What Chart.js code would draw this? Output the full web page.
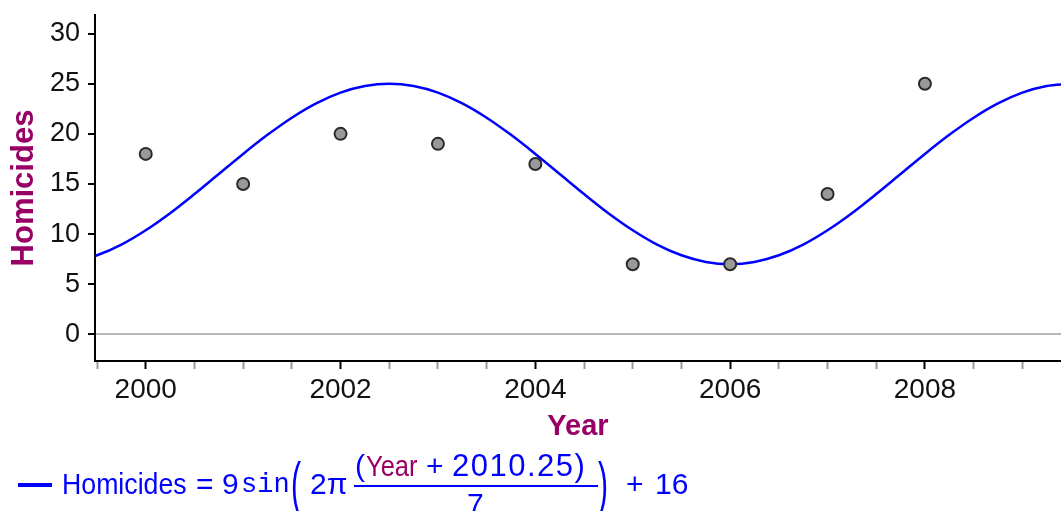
<!DOCTYPE html>
<html>
<head>
<meta charset="utf-8">
<script src="https://cdn.jsdelivr.net/npm/chart.js@4/dist/chart.umd.min.js"></script>
<style>
  body { margin: 0; background: #fff; }
  #wrap { position: relative; width: 1061px; height: 511px; overflow: hidden; }
  #legend > * { position: absolute; white-space: pre; color: #0000ff;
    font-family: "Liberation Sans", Arial, sans-serif; font-size: 30px; line-height: 30px; transform-origin: 0 50%; }
  #legend .mono { font-family: "Liberation Mono", "DejaVu Sans Mono", monospace; font-size: 27px; }
  #legend .big { font-size: 30px; line-height: 30px; transform: scaleY(2.0); transform-origin: 50% 50%; }
  #legend .var { color: #990066; }
</style>
</head>
<body>
<div id="wrap">
  <canvas id="c"></canvas>
  <div id="legend">
    <div style="left:18px; top:483px; width:34px; height:4px; background:#0000ff;"></div>
    <span style="left:62px; top:469px; transform:scaleX(0.89);">Homicides</span>
    <span style="left:196px; top:469px;">=</span>
    <span style="left:222px; top:469px;">9</span>
    <span class="mono" style="left:241px; top:470px;">sin</span>
    <span class="big" style="left:291px; top:469px;">(</span>
    <span style="left:310px; top:469px;">2π</span>
    <span style="left:355px; top:451px;">(</span>
    <span class="var" style="left:366px; top:451px; transform:scaleX(0.85);">Year</span>
    <span style="left:426px; top:451px;">+</span>
    <span style="left:452px; top:450px; font-size:31px; line-height:31px; letter-spacing:1.5px;">2010.25)</span>
    <div style="left:354px; top:485px; width:244px; height:2px; background:#0000ff;"></div>
    <span style="left:467px; top:489px;">7</span>
    <span class="big" style="left:598px; top:469px;">)</span>
    <span style="left:626px; top:469px;">+</span>
    <span style="left:655px; top:469px;">16</span>
  </div>
</div>
<script>
// Observed yearly homicide counts
const years = [2000, 2001, 2002, 2003, 2004, 2005, 2006, 2007, 2008];
const homicides = [18, 15, 20, 19, 17, 7, 7, 14, 25];

// Fitted sine model, sampled every quarter year
const modelYears = [
  1999.25, 1999.5, 1999.75, 2000, 2000.25, 2000.5, 2000.75, 2001, 2001.25, 2001.5, 2001.75,
  2002, 2002.25, 2002.5, 2002.75, 2003, 2003.25, 2003.5, 2003.75, 2004, 2004.25, 2004.5, 2004.75,
  2005, 2005.25, 2005.5, 2005.75, 2006, 2006.25, 2006.5, 2006.75, 2007, 2007.25, 2007.5, 2007.75,
  2008, 2008.25, 2008.5, 2008.75, 2009, 2009.25, 2009.5
];
const modelValues = [
  7.23, 7.89, 8.96, 10.39, 12.09, 14.0, 16.0, 18.0, 19.9, 21.61, 23.04,
  24.11, 24.77, 25.0, 24.77, 24.11, 23.04, 21.61, 19.9, 18.0, 16.0, 14.0, 12.09,
  10.39, 8.96, 7.89, 7.23, 7.0, 7.23, 7.89, 8.96, 10.39, 12.09, 14.0, 16.0,
  18.0, 19.9, 21.61, 23.04, 24.11, 24.77, 25.0
];

// Axis ticks
const yTicks = [0, 5, 10, 15, 20, 25, 30];
const xTicks = [1999.5, 2000, 2000.5, 2001, 2001.5, 2002, 2002.5, 2003, 2003.5, 2004, 2004.5,
  2005, 2005.5, 2006, 2006.5, 2007, 2007.5, 2008, 2008.5, 2009];
const xLabelled = [2000, 2002, 2004, 2006, 2008];

const FONT = '"Liberation Sans", Arial, sans-serif';
const PURPLE = '#990066';
Chart.defaults.font.family = FONT;

new Chart(document.getElementById('c'), {
  type: 'scatter',
  data: {
    datasets: [
      {
        type: 'scatter',
        label: 'Homicides',
        data: years.map((x, i) => ({ x, y: homicides[i] })),
        pointRadius: 6,
        pointBackgroundColor: '#999999',
        pointBorderColor: '#2a2a2a',
        pointBorderWidth: 2,
        order: 0
      },
      {
        type: 'line',
        label: 'Model',
        data: modelYears.map((x, i) => ({ x, y: modelValues[i] })),
        borderColor: '#0000ff',
        borderWidth: 2.5,
        pointRadius: 0,
        fill: false,
        cubicInterpolationMode: 'monotone',
        order: 1
      }
    ]
  },
  options: {
    responsive: true,
    maintainAspectRatio: false,
    animation: false,
    layout: { autoPadding: false, padding: { top: 15, right: 0, bottom: 50, left: 0 } },
    plugins: { legend: { display: false }, tooltip: { enabled: false } },
    scales: {
      x: {
        type: 'linear',
        min: 1999.479,
        max: 2009.397,
        afterBuildTicks: s => { s.ticks = xTicks.map(v => ({ value: v })); },
        afterFit: s => { s.height = 100; s.paddingLeft = 0; s.paddingRight = 0; },
        ticks: {
          autoSkip: false,
          maxRotation: 0,
          padding: 4,
          color: '#111',
          font: { size: 28 },
          callback: v => (xLabelled.includes(v) ? String(v) : '')
        },
        grid: {
          drawOnChartArea: false,
          drawTicks: true,
          tickLength: 8,
          tickWidth: 2,
          tickColor: c => (xLabelled.includes(c.tick.value) ? '#000' : '#9a9a9a')
        },
        border: { color: '#000', width: 2 },
        title: {
          display: true,
          text: 'Year',
          color: PURPLE,
          font: { size: 29, weight: 'bold' },
          padding: { top: 0, bottom: 17 }
        }
      },
      y: {
        min: -2.65,
        max: 31.85,
        afterBuildTicks: s => { s.ticks = yTicks.map(v => ({ value: v })); },
        afterFit: s => { s.width = 95; s.paddingTop = 0; s.paddingBottom = 0; },
        ticks: {
          padding: 8,
          color: '#111',
          font: { size: 27, lineHeight: 1 }
        },
        grid: {
          drawOnChartArea: true,
          color: c => (c.tick && c.tick.value === 0 ? '#b8b8b8' : 'rgba(0,0,0,0)'),
          lineWidth: 2,
          drawTicks: true,
          tickLength: 7,
          tickWidth: 2,
          tickColor: '#000'
        },
        border: { color: '#000', width: 2 },
        title: {
          display: true,
          text: 'Homicides',
          color: PURPLE,
          font: { size: 31, weight: 'bold' },
          padding: { top: 6, bottom: 0 }
        }
      }
    }
  }
});
</script>
</body>
</html>
